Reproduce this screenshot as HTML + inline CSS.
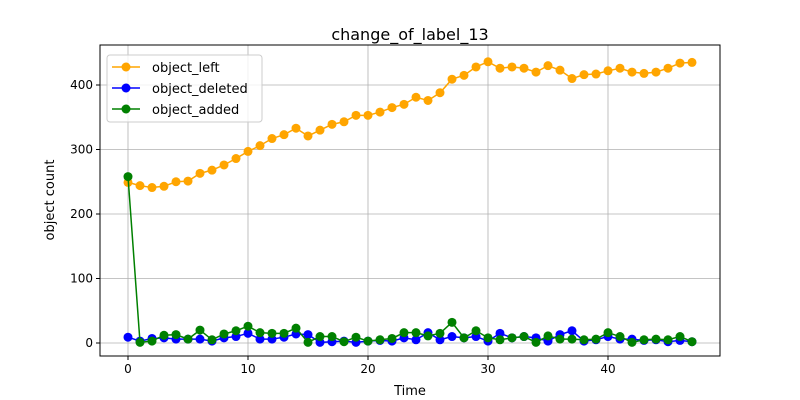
<!DOCTYPE html>
<html><head><meta charset="utf-8"><style>body{margin:0;background:#fff}svg{display:block;font-family:"DejaVu Sans","Liberation Sans",sans-serif}</style></head>
<body>
<svg id="chart" width="800" height="400"></svg>
<script>
const times = Array.from({length:48},(_,i)=>i);
const objectLeft=[249,244,241,243,250,251,263,268,276,286,297,306,317,323,333,321,330,339,343,353,353,358,365,370,381,376,388,409,415,428,436,426,428,426,420,430,423,410,416,417,422,426,420,418,420,426,434,435];
const objectDeleted=[9,3,7,8,6,6,6,3,8,10,15,6,6,9,14,13,1,2,3,1,3,4,3,8,5,16,5,10,8,10,3,15,8,10,8,3,13,19,3,5,10,6,6,4,5,2,4,2];
const objectAdded=[258,1,3,12,13,6,20,5,14,19,26,16,15,15,23,1,10,10,2,9,3,5,7,16,16,11,15,32,8,19,8,5,8,10,1,11,6,6,5,6,16,10,1,5,6,5,10,2];
const xTicks=[0,10,20,30,40];
const yTicks=[0,100,200,300,400];
const L=100,R=720,T=45,B=356;
const xs=v=>128+v*12.0;
const ys=v=>343-v*0.645;
const svg=document.getElementById('chart');
const NS='http://www.w3.org/2000/svg';
function mk(tag,a,p){const e=document.createElementNS(NS,tag);for(const k in a)e.setAttribute(k,a[k]);(p||svg).appendChild(e);return e;}
let t=mk('text',{x:410,y:40,'text-anchor':'middle','font-size':16});t.textContent='change_of_label_13';


xTicks.forEach(v=>{const g=mk('line',{x1:xs(v),x2:xs(v),y1:T,y2:B,stroke:'#b0b0b0','stroke-width':0.8});


mk('line',{x1:xs(v),x2:xs(v),y1:B,y2:B+4,stroke:'#000'});
const l=mk('text',{x:xs(v),y:B+17,'text-anchor':'middle','font-size':12});l.textContent=v;

});
yTicks.forEach(v=>{const g=mk('line',{x1:L,x2:R,y1:ys(v),y2:ys(v),stroke:'#b0b0b0','stroke-width':0.8});


mk('line',{x1:L-4,x2:L,y1:ys(v),y2:ys(v),stroke:'#000'});
const l=mk('text',{x:L-7,y:ys(v)+4,'text-anchor':'end','font-size':12});l.textContent=v;

});
const fr=mk('rect',{x:L,y:T,width:R-L,height:B-T,fill:'none',stroke:'#000','stroke-width':1});


let xl=mk('text',{x:410,y:395,'text-anchor':'middle','font-size':13});xl.textContent='Time';


let yl=mk('text',{x:0,y:0,'text-anchor':'middle','font-size':13,transform:'translate(54,200) rotate(-90)'});yl.textContent='object count';


function series(vals,color,name){const g=mk('g',{});


mk('polyline',{points:vals.map((v,i)=>xs(times[i])+','+ys(v)).join(' '),fill:'none',stroke:color,'stroke-width':1.5},g);
vals.forEach((v,i)=>{const c=mk('circle',{cx:xs(times[i]),cy:ys(v),r:4.5,fill:color},g);

});}
series(objectLeft,'orange','object-left');
series(objectDeleted,'blue','object-deleted');
series(objectAdded,'green','object-added');
const lg=mk('g',{});


mk('rect',{x:107,y:55,width:155,height:67,rx:3,fill:'#fff','fill-opacity':0.8,stroke:'#ccc'},lg);
[['object_left','orange'],['object_deleted','blue'],['object_added','green']].forEach((d,i)=>{const y=67+i*21;
const e=mk('g',{},lg);


mk('line',{x1:112,x2:140,y1:y,y2:y,stroke:d[1],'stroke-width':1.5},e);
mk('circle',{cx:126,cy:y,r:4.5,fill:d[1]},e);
const tx=mk('text',{x:152,y:y+5,'font-size':13},e);tx.textContent=d[0];});
</script>
</body></html>
